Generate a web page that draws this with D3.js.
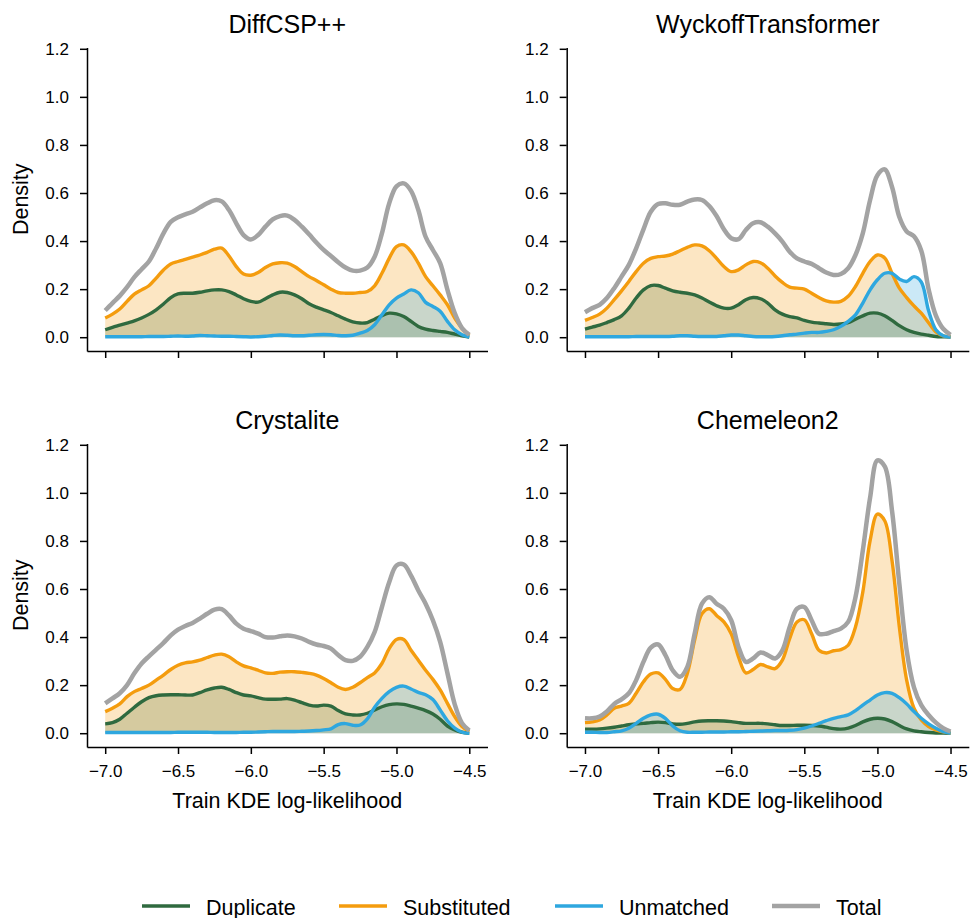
<!DOCTYPE html>
<html><head><meta charset="utf-8">
<script src="https://cdn.jsdelivr.net/npm/d3@7"></script>
<style>
body{margin:0;background:#fff}
svg{display:block}
text{font-family:"Liberation Sans",Arial,Helvetica,sans-serif;fill:#000}
</style>
</head><body>
<svg id="chart" width="970" height="918"></svg>
<script>
// ---- data ----
const xs = [-7.0,-6.95,-6.9,-6.85,-6.8,-6.75,-6.7,-6.65,-6.6,-6.55,
  -6.5,-6.45,-6.4,-6.35,-6.3,-6.25,-6.2,-6.15,-6.1,-6.05,
  -6.0,-5.95,-5.9,-5.85,-5.8,-5.75,-5.7,-5.65,-5.6,-5.55,
  -5.5,-5.45,-5.4,-5.35,-5.3,-5.25,-5.2,-5.15,-5.1,-5.05,
  -5.0,-4.95,-4.9,-4.85,-4.8,-4.75,-4.7,-4.65,-4.6,-4.55,-4.5];
const xTicks = [-7.0,-6.5,-6.0,-5.5,-5.0,-4.5];
const yTicks = [0.0,0.2,0.4,0.6,0.8,1.0,1.2];
const seriesNames = ["Duplicate","Substituted","Unmatched","Total"];
const panelTitles = ["DiffCSP++","WyckoffTransformer","Crystalite","Chemeleon2"];
const xLabel = "Train KDE log-likelihood";
const yLabel = "Density";

const diffcspDuplicate = [0.031,0.041,0.05,0.059,0.068,0.08,0.095,0.114,0.138,0.165,
  0.18,0.183,0.183,0.187,0.193,0.197,0.197,0.19,0.176,0.16,
  0.149,0.146,0.16,0.176,0.187,0.186,0.176,0.16,0.139,0.125,
  0.114,0.103,0.089,0.075,0.064,0.059,0.061,0.075,0.09,0.1,
  0.097,0.086,0.066,0.045,0.034,0.028,0.024,0.02,0.013,0.006,0.001];
const diffcspSubstituted = [0.08,0.096,0.117,0.149,0.179,0.197,0.214,0.246,0.28,0.305,
  0.315,0.324,0.333,0.342,0.353,0.366,0.371,0.338,0.294,0.263,
  0.258,0.269,0.29,0.305,0.31,0.308,0.294,0.273,0.252,0.236,
  0.218,0.2,0.186,0.183,0.183,0.186,0.19,0.214,0.266,0.328,
  0.377,0.384,0.356,0.308,0.252,0.214,0.176,0.135,0.08,0.038,0.008];
const diffcspUnmatched = [0.002,0.002,0.002,0.002,0.002,0.002,0.003,0.003,0.003,0.004,
  0.005,0.004,0.005,0.007,0.006,0.005,0.004,0.004,0.003,0.002,
  0.001,0.002,0.004,0.007,0.009,0.008,0.006,0.006,0.008,0.01,
  0.011,0.01,0.007,0.006,0.008,0.017,0.028,0.052,0.093,0.135,
  0.163,0.18,0.197,0.185,0.145,0.128,0.108,0.066,0.031,0.01,0.0];
const diffcspTotal = [0.111,0.142,0.172,0.208,0.25,0.283,0.315,0.37,0.432,0.48,
  0.499,0.511,0.522,0.54,0.557,0.57,0.565,0.529,0.474,0.425,
  0.407,0.425,0.46,0.49,0.504,0.506,0.488,0.46,0.428,0.394,
  0.363,0.338,0.312,0.29,0.277,0.277,0.29,0.335,0.432,0.557,
  0.628,0.64,0.609,0.529,0.418,0.363,0.308,0.197,0.1,0.038,0.01];

const wyckoffDuplicate = [0.034,0.042,0.05,0.061,0.073,0.089,0.121,0.163,0.197,0.215,
  0.215,0.204,0.193,0.187,0.183,0.176,0.163,0.146,0.131,0.121,
  0.121,0.135,0.156,0.165,0.16,0.142,0.114,0.096,0.086,0.08,
  0.07,0.063,0.059,0.056,0.053,0.055,0.061,0.075,0.089,0.1,
  0.1,0.089,0.07,0.048,0.031,0.02,0.013,0.008,0.003,0.002,0.001];
const wyckoffSubstituted = [0.07,0.082,0.096,0.121,0.156,0.193,0.232,0.273,0.308,0.328,
  0.335,0.338,0.346,0.36,0.374,0.384,0.38,0.36,0.328,0.294,
  0.273,0.28,0.301,0.315,0.31,0.287,0.255,0.228,0.208,0.204,
  0.2,0.183,0.165,0.151,0.146,0.149,0.17,0.211,0.266,0.315,
  0.342,0.33,0.266,0.204,0.165,0.13,0.1,0.06,0.022,0.006,0.002];
const wyckoffUnmatched = [0.002,0.002,0.002,0.002,0.002,0.002,0.002,0.003,0.003,0.003,
  0.003,0.003,0.004,0.006,0.006,0.004,0.003,0.003,0.003,0.006,
  0.009,0.009,0.006,0.003,0.002,0.002,0.003,0.006,0.01,0.013,
  0.017,0.02,0.02,0.024,0.031,0.045,0.066,0.093,0.142,0.197,
  0.239,0.266,0.266,0.242,0.232,0.252,0.23,0.11,0.031,0.006,0.0];
const wyckoffTotal = [0.104,0.121,0.135,0.163,0.204,0.252,0.301,0.37,0.449,0.522,
  0.554,0.557,0.551,0.551,0.564,0.573,0.571,0.546,0.504,0.449,
  0.412,0.408,0.446,0.474,0.478,0.46,0.432,0.398,0.356,0.328,
  0.315,0.305,0.287,0.269,0.259,0.263,0.287,0.342,0.432,0.571,
  0.674,0.698,0.625,0.5,0.44,0.42,0.36,0.2,0.09,0.035,0.01];

const crystaliteDuplicate = [0.039,0.044,0.058,0.083,0.108,0.131,0.148,0.156,0.159,0.16,
  0.16,0.159,0.159,0.169,0.18,0.188,0.191,0.182,0.169,0.159,
  0.155,0.148,0.142,0.141,0.142,0.144,0.138,0.127,0.117,0.113,
  0.117,0.113,0.094,0.08,0.076,0.076,0.083,0.097,0.11,0.119,
  0.122,0.12,0.113,0.104,0.094,0.08,0.058,0.03,0.014,0.004,0.0];
const crystaliteSubstituted = [0.09,0.104,0.122,0.152,0.173,0.186,0.2,0.221,0.242,0.265,
  0.283,0.293,0.297,0.304,0.315,0.325,0.329,0.318,0.297,0.28,
  0.272,0.262,0.251,0.249,0.254,0.256,0.256,0.253,0.249,0.242,
  0.228,0.21,0.191,0.182,0.191,0.21,0.231,0.251,0.29,0.352,
  0.39,0.39,0.345,0.304,0.262,0.224,0.18,0.124,0.069,0.028,0.007];
const crystaliteUnmatched = [0.003,0.003,0.003,0.003,0.003,0.003,0.003,0.003,0.003,0.003,
  0.004,0.004,0.004,0.004,0.004,0.003,0.003,0.003,0.003,0.004,
  0.004,0.005,0.006,0.007,0.007,0.007,0.007,0.008,0.009,0.011,
  0.014,0.018,0.036,0.04,0.033,0.034,0.06,0.108,0.145,0.173,
  0.191,0.196,0.184,0.17,0.16,0.14,0.097,0.052,0.021,0.004,0.0];
const crystaliteTotal = [0.124,0.145,0.166,0.2,0.249,0.29,0.32,0.348,0.376,0.407,
  0.431,0.446,0.459,0.477,0.497,0.514,0.516,0.49,0.456,0.435,
  0.425,0.414,0.4,0.398,0.403,0.407,0.403,0.394,0.38,0.369,
  0.363,0.352,0.325,0.304,0.301,0.318,0.359,0.421,0.525,0.628,
  0.698,0.702,0.656,0.594,0.539,0.47,0.38,0.25,0.12,0.042,0.011];

const chemeleonDuplicate = [0.017,0.017,0.018,0.021,0.025,0.03,0.035,0.039,0.041,0.044,
  0.046,0.044,0.039,0.037,0.041,0.047,0.051,0.052,0.052,0.051,
  0.048,0.044,0.041,0.041,0.041,0.039,0.035,0.032,0.032,0.033,
  0.033,0.032,0.03,0.025,0.019,0.017,0.021,0.032,0.047,0.058,
  0.062,0.059,0.048,0.032,0.018,0.01,0.006,0.003,0.001,0.001,0.0];
const chemeleonSubstituted = [0.044,0.047,0.055,0.076,0.104,0.113,0.124,0.166,0.214,0.246,
  0.251,0.224,0.186,0.182,0.249,0.387,0.497,0.518,0.49,0.463,
  0.414,0.318,0.251,0.265,0.286,0.276,0.269,0.304,0.394,0.463,
  0.472,0.414,0.345,0.334,0.343,0.348,0.366,0.442,0.587,0.801,
  0.912,0.884,0.718,0.442,0.221,0.104,0.055,0.028,0.014,0.006,0.001];
const chemeleonUnmatched = [0.004,0.004,0.003,0.003,0.006,0.01,0.021,0.041,0.062,0.076,
  0.079,0.062,0.03,0.01,0.004,0.004,0.004,0.005,0.005,0.005,
  0.006,0.006,0.007,0.008,0.009,0.01,0.011,0.011,0.012,0.015,
  0.021,0.03,0.041,0.052,0.062,0.069,0.076,0.094,0.117,0.138,
  0.159,0.169,0.166,0.148,0.122,0.09,0.062,0.039,0.021,0.007,0.0];
const chemeleonTotal = [0.062,0.062,0.069,0.09,0.122,0.141,0.166,0.221,0.297,0.356,
  0.369,0.325,0.262,0.235,0.276,0.414,0.539,0.566,0.539,0.518,
  0.47,0.359,0.297,0.311,0.336,0.325,0.311,0.345,0.442,0.518,
  0.525,0.47,0.414,0.414,0.425,0.435,0.463,0.566,0.76,0.98,
  1.135,1.11,0.925,0.622,0.345,0.191,0.117,0.076,0.044,0.021,0.007];

const panelData = [
  [diffcspDuplicate, diffcspSubstituted, diffcspUnmatched, diffcspTotal],
  [wyckoffDuplicate, wyckoffSubstituted, wyckoffUnmatched, wyckoffTotal],
  [crystaliteDuplicate, crystaliteSubstituted, crystaliteUnmatched, crystaliteTotal],
  [chemeleonDuplicate, chemeleonSubstituted, chemeleonUnmatched, chemeleonTotal]
];

// ---- styles / layout ----
const colors = ["#2f6a3f", "#f49c0e", "#2ea7df", "#a3a3a3"];
const lineWidths = [3.4, 3.4, 3.4, 4.5];
const filled = [true, true, true, false];
const fillOpacity = 0.25;

const panels = [
  {left: 87,    right: 487.5, top: 47.5,  bottom: 351, showX: false, showY: true},
  {left: 566.7, right: 968.8, top: 47.5,  bottom: 351, showX: false, showY: false},
  {left: 87,    right: 487.5, top: 443.5, bottom: 747, showX: true,  showY: true},
  {left: 566.7, right: 968.8, top: 443.5, bottom: 747, showX: true,  showY: false}
];
const xDomain = [-7.125, -4.375];
const yDomain = [-0.0574, 1.2054];

const svg = d3.select("#chart");
const fmt = d => d3.format(".1f")(d).replace("-", "\u2212");

panels.forEach((p, i) => {
  const x = d3.scaleLinear().domain(xDomain).range([p.left, p.right]);
  const y = d3.scaleLinear().domain(yDomain).range([p.bottom, p.top]);
  const g = svg.append("g");

  const clipId = "clip" + i;
  svg.append("clipPath").attr("id", clipId).append("rect")
    .attr("x", p.left).attr("y", p.top).attr("width", p.right - p.left).attr("height", p.bottom - p.top);

  const plot = g.append("g").attr("clip-path", `url(#${clipId})`);
  const curve = d3.curveCatmullRom.alpha(0.5);
  const series = panelData[i];

  // fills
  series.forEach((vals, k) => {
    if (!filled[k]) return;
    const area = d3.area().x((d, j) => x(xs[j])).y0(y(0)).y1(d => y(d)).curve(curve);
    plot.append("path").attr("d", area(vals))
      .attr("fill", colors[k]).attr("fill-opacity", fillOpacity).attr("stroke", "none");
  });
  // lines
  series.forEach((vals, k) => {
    const line = d3.line().x((d, j) => x(xs[j])).y(d => y(d)).curve(curve);
    plot.append("path").attr("d", line(vals))
      .attr("fill", "none").attr("stroke", colors[k]).attr("stroke-width", lineWidths[k])
      .attr("stroke-linejoin", "round").attr("stroke-linecap", "butt");
  });

  // axes
  const yAxis = d3.axisLeft(y).tickValues(yTicks).tickSize(7).tickSizeOuter(0).tickPadding(11)
    .tickFormat(fmt);
  const ya = g.append("g").attr("transform", `translate(${p.left},0)`).call(yAxis);
  const xAxis = d3.axisBottom(x).tickValues(xTicks).tickSize(7).tickSizeOuter(0).tickPadding(10.5)
    .tickFormat(p.showX ? fmt : () => "");
  const xa = g.append("g").attr("transform", `translate(0,${p.bottom})`).call(xAxis);
  [ya, xa].forEach(a => {
    a.select(".domain").attr("stroke", "#000").attr("stroke-width", 1.5);
    a.selectAll(".tick line").attr("stroke", "#000").attr("stroke-width", 1.5);
    a.selectAll(".tick text").attr("fill", "#000").style("font-size", "17px")
      .style("font-family", '"Liberation Sans",Arial,sans-serif');
  });

  // title
  g.append("text").attr("x", (p.left + p.right) / 2).attr("y", p.top - 14.5)
    .attr("text-anchor", "middle").style("font-size", "25px").text(panelTitles[i]);

  if (p.showY) {
    g.append("text")
      .attr("transform", `translate(27.5,${(p.top + p.bottom) / 2}) rotate(-90)`)
      .attr("text-anchor", "middle").style("font-size", "21.5px").text(yLabel);
  }
  if (p.showX) {
    g.append("text").attr("x", (p.left + p.right) / 2).attr("y", 808)
      .attr("text-anchor", "middle").style("font-size", "21.5px").text(xLabel);
  }
});

// legend
const legendX = [142, 339, 555, 772];
const legend = svg.append("g");
seriesNames.forEach((name, k) => {
  legend.append("line").attr("x1", legendX[k]).attr("x2", legendX[k] + 48)
    .attr("y1", 906).attr("y2", 906)
    .attr("stroke", colors[k]).attr("stroke-width", lineWidths[k]);
  legend.append("text").attr("x", legendX[k] + 64).attr("y", 914.5)
    .style("font-size", "21.5px").text(name);
});
</script>
</body></html>
